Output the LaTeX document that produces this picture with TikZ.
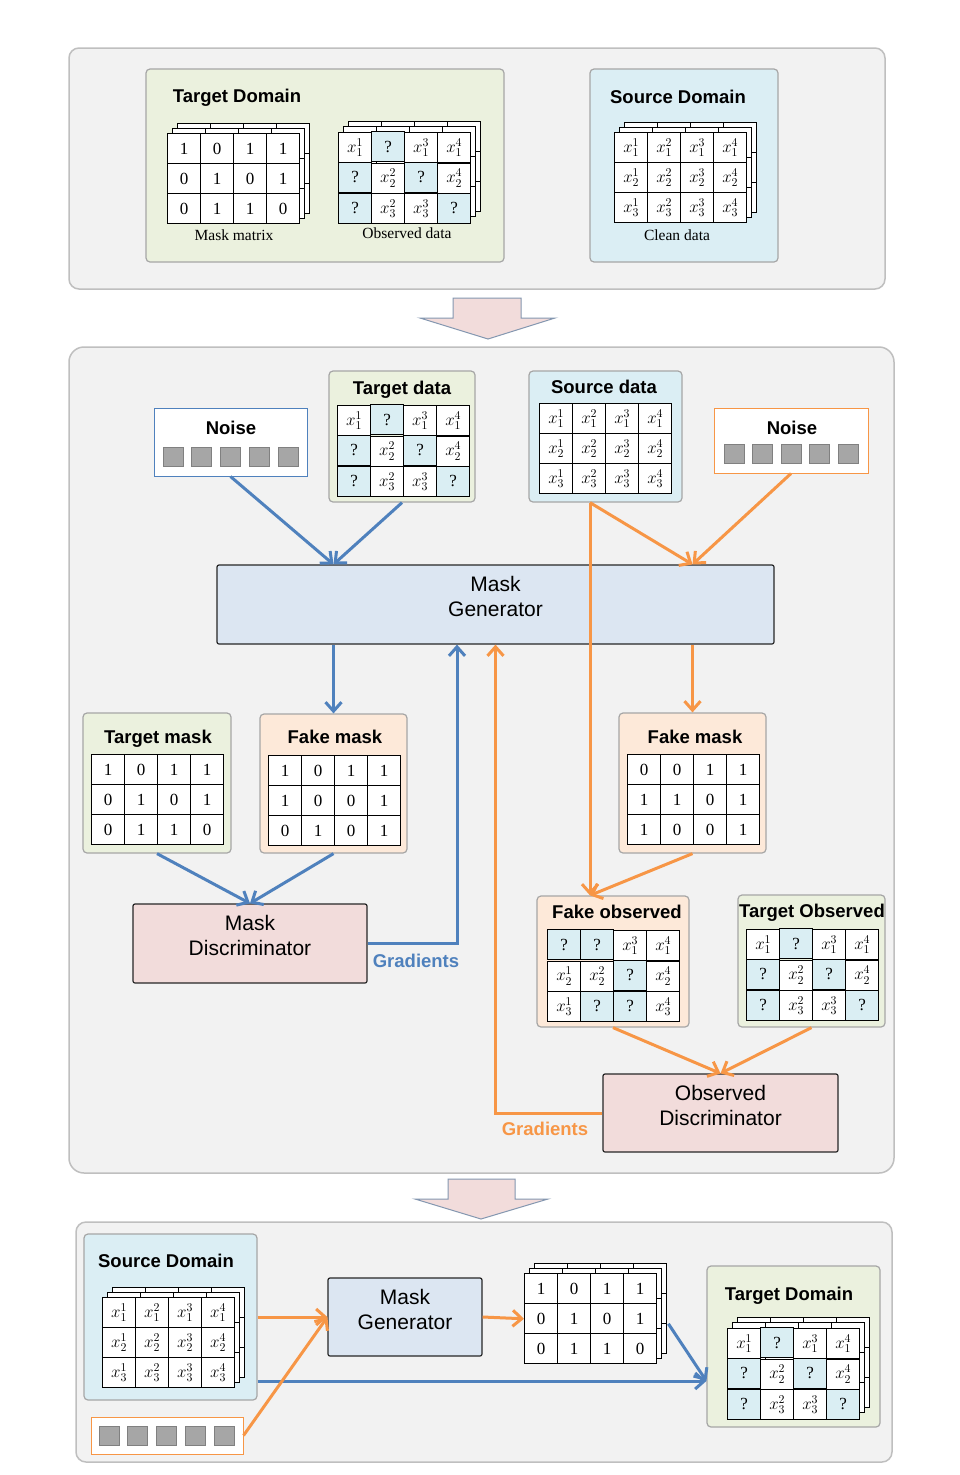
\documentclass[tikz,border=0pt]{standalone}
\usepackage{fix-cm}
\usepackage{fontspec}
\setmainfont{Liberation Serif}
\setsansfont{Liberation Sans}
\usetikzlibrary{arrows.meta,matrix,fit}

\definecolor{panelgray}{HTML}{F2F2F2}
\definecolor{boxgreen}{HTML}{EBF1DE}
\definecolor{boxblue}{HTML}{DBEEF4}
\definecolor{boxpeach}{HTML}{FDE9D9}
\definecolor{boxpink}{HTML}{F2DCDB}
\definecolor{netblue}{HTML}{DCE6F2}
\definecolor{qblue}{HTML}{DAEEF3}
\definecolor{flowblue}{HTML}{4F81BD}
\definecolor{floworange}{HTML}{F79646}
\definecolor{arrowedge}{HTML}{8497B0}

\newcommand{\titlefont}{\sffamily\bfseries\fontsize{18.5}{21}\selectfont}
\newcommand{\netfont}{\sffamily\fontsize{21}{25}\selectfont}
\newcommand{\capfont}{\rmfamily\fontsize{15.5}{18}\selectfont}
\newcommand{\cellfont}{\rmfamily\fontsize{17}{18}\selectfont}

% one hidden sheet of a stacked grid, top left corner at #1,#2
\newcommand{\backsheet}[2]{%
  \draw[sheet] (#1,#2) rectangle ++(132,90);
  \foreach \i in {1,2,3} \draw[sheet] ({#1+33*\i},#2) -- ++(0,90);
  \foreach \j in {1,2} \draw[sheet] (#1,{#2+30*\j}) -- ++(132,0);
}
\newcommand{\backstack}[2]{\backsheet{#1+10}{#2-10}\backsheet{#1+5}{#2-5}}

\begin{document}
\begin{tikzpicture}[x=1pt,y=-1pt]
	\tikzstyle{panel}=[draw=black!25, fill=panelgray, line width=1.5pt, rounded corners=10pt]
	\tikzstyle{box}=[draw=black!35, line width=1.2pt, rounded corners=4pt, inner sep=0pt]
	\tikzstyle{greenbox}=[box, fill=boxgreen]
	\tikzstyle{bluebox}=[box, fill=boxblue]
	\tikzstyle{peachbox}=[box, fill=boxpeach]
	\tikzstyle{netbox}=[draw=black!85, line width=1.2pt, rounded corners=2pt, inner sep=0pt, align=center, font=\netfont]
	\tikzstyle{noisebox}=[draw, line width=1pt, fill=white, inner sep=0pt]
	\tikzstyle{noisesq}=[draw=black!50, fill=black!35, line width=0.8pt, minimum width=20pt, minimum height=19pt, inner sep=0pt]
	\tikzstyle{boxtitle}=[font=\titlefont, inner sep=0pt, anchor=base]
	\tikzstyle{gridcaption}=[font=\capfont, inner sep=0pt, anchor=base]
	\tikzstyle{gradlabel}=[font=\titlefont, inner sep=0pt, anchor=base]
	\tikzstyle{cell}=[draw, line width=1pt, fill=white, minimum width=33pt, minimum height=30pt, inner sep=0pt, outer sep=0pt, font=\cellfont]
	\tikzstyle{qcell}=[fill=qblue]
	\tikzstyle{datagrid}=[matrix of nodes, nodes in empty cells, anchor=north west, inner sep=0pt, column sep=-1pt, row sep=-1pt, nodes={cell}]
	\tikzstyle{sheet}=[draw, line width=1pt, fill=white]
	\tikzstyle{blueflow}=[-{Straight Barb[length=9pt,width=16pt]}, line width=3pt, draw=flowblue]
	\tikzstyle{orangeflow}=[-{Straight Barb[length=9pt,width=16pt]}, line width=3pt, draw=floworange]
	\tikzstyle{bigarrow}=[draw=arrowedge, fill=boxpink, line width=1pt, line join=miter]
	\useasboundingbox[fill=white] (0,0) rectangle (960,1475);

	% top panel
	\draw[panel] (69,48) rectangle (885,289);
	\node[greenbox, fit={(146,69) (504,262)}] (tdbox) {};
	\node[bluebox, fit={(590,69) (778,262)}] (sdbox) {};
	\node[boxtitle] (tdtitle) at (237,102) {Target Domain};
	\node[boxtitle] (sdtitle) at (678,103) {Source Domain};
	\backstack{167}{133}
	\matrix (maskgrid) [datagrid] at (167,133) {
	  1 & 0 & 1 & 1 \\
	  0 & 1 & 0 & 1 \\
	  0 & 1 & 1 & 0 \\
	};
	\backstack{338}{131}
	\matrix (obsgrid) [datagrid] at (338,131) {
	  $x_1^1$ & |[qcell]| ? & $x_1^3$ & $x_1^4$ \\
	  |[qcell]| ? & $x_2^2$ & |[qcell]| ? & $x_2^4$ \\
	  |[qcell]| ? & $x_3^2$ & $x_3^3$ & |[qcell]| ? \\
	};
	\backstack{614}{132}
	\matrix (cleangrid) [datagrid] at (614,132) {
	  $x_1^1$ & $x_1^2$ & $x_1^3$ & $x_1^4$ \\
	  $x_2^1$ & $x_2^2$ & $x_2^3$ & $x_2^4$ \\
	  $x_3^1$ & $x_3^2$ & $x_3^3$ & $x_3^4$ \\
	};
	\node[gridcaption] (maskcap) at (234,240) {Mask matrix};
	\node[gridcaption] (obscap) at (407,238) {Observed data};
	\node[gridcaption] (cleancap) at (677,240) {Clean data};

	\draw[bigarrow] (453,298) -- (521,298) -- (521,318) -- (555,318) -- (488,339) -- (420,318) -- (453,318) -- cycle;

	% training panel
	\draw[panel, rounded corners=15pt] (69,347) rectangle (894,1173);
	\node[noisebox, draw=flowblue, fit={(154,408) (307,476)}] (noiseL) {};
	\node[boxtitle] (noiseLtitle) at (231,434) {Noise};
	\foreach \i in {0,...,4}
	  \node[noisesq] (nl\i) at ({173+28.75*\i},456.5) {};
	\node[greenbox, fit={(329,371) (475,502)}] (tdata) {};
	\node[boxtitle] (tdatatitle) at (402,394) {Target data};
	\matrix (tdgrid) [datagrid] at (337,404) {
	  $x_1^1$ & |[qcell]| ? & $x_1^3$ & $x_1^4$ \\
	  |[qcell]| ? & $x_2^2$ & |[qcell]| ? & $x_2^4$ \\
	  |[qcell]| ? & $x_3^2$ & $x_3^3$ & |[qcell]| ? \\
	};
	\node[bluebox, fit={(529,371) (682,502)}] (sdata) {};
	\node[boxtitle] (sdatatitle) at (604,393) {Source data};
	\matrix (sdgrid) [datagrid] at (539,403) {
	  $x_1^1$ & $x_1^2$ & $x_1^3$ & $x_1^4$ \\
	  $x_2^1$ & $x_2^2$ & $x_2^3$ & $x_2^4$ \\
	  $x_3^1$ & $x_3^2$ & $x_3^3$ & $x_3^4$ \\
	};
	\node[noisebox, draw=floworange, fit={(714,408) (868,473)}] (noiseR) {};
	\node[boxtitle] (noiseRtitle) at (792,434) {Noise};
	\foreach \i in {0,...,4}
	  \node[noisesq] (nr\i) at ({734+28.5*\i},453.5) {};

	\node[netbox, fill=netblue, fit={(217,565) (774,644)}] (mg) {Mask\\Generator};

	\node[greenbox, fit={(83,713) (231,853)}] (tmask) {};
	\node[boxtitle] (tmasktitle) at (158,743) {Target mask};
	\matrix (tmgrid) [datagrid] at (91,754) {
	  1 & 0 & 1 & 1 \\
	  0 & 1 & 0 & 1 \\
	  0 & 1 & 1 & 0 \\
	};
	\node[peachbox, fit={(260,714) (407,853)}] (fmaskL) {};
	\node[boxtitle] (fmaskLtitle) at (335,743) {Fake mask};
	\matrix (fmLgrid) [datagrid] at (268,755) {
	  1 & 0 & 1 & 1 \\
	  1 & 0 & 0 & 1 \\
	  0 & 1 & 0 & 1 \\
	};
	\node[peachbox, fit={(619,713) (766,853)}] (fmaskR) {};
	\node[boxtitle] (fmaskRtitle) at (695,743) {Fake mask};
	\matrix (fmRgrid) [datagrid] at (627,754) {
	  0 & 0 & 1 & 1 \\
	  1 & 1 & 0 & 1 \\
	  1 & 0 & 0 & 1 \\
	};

	\node[netbox, fill=boxpink, fit={(133,904) (367,983)}] (md) {Mask\\Discriminator};

	\node[peachbox, fit={(537,896) (689,1027)}] (fobs) {};
	\node[boxtitle] (fobstitle) at (617,918) {Fake observed};
	\matrix (fogrid) [datagrid] at (547,929) {
	  |[qcell]| ? & |[qcell]| ? & $x_1^3$ & $x_1^4$ \\
	  $x_2^1$ & $x_2^2$ & |[qcell]| ? & $x_2^4$ \\
	  $x_3^1$ & |[qcell]| ? & |[qcell]| ? & $x_3^4$ \\
	};
	\node[greenbox, fit={(738,895) (885,1027)}] (tobs) {};
	\node[boxtitle] (tobstitle) at (812,917) {Target Observed};
	\matrix (togrid) [datagrid] at (746,928) {
	  $x_1^1$ & |[qcell]| ? & $x_1^3$ & $x_1^4$ \\
	  |[qcell]| ? & $x_2^2$ & |[qcell]| ? & $x_2^4$ \\
	  |[qcell]| ? & $x_3^2$ & $x_3^3$ & |[qcell]| ? \\
	};

	\node[netbox, fill=boxpink, fit={(603,1074) (838,1152)}] (od) {Observed\\Discriminator};

	\node[gradlabel, text=flowblue] (gradB) at (416,967) {Gradients};
	\node[gradlabel, text=floworange] (gradO) at (545,1135) {Gradients};

	\coordinate (srcout) at ([xshift=-15.5pt]sdata.south);
	\path
	  (noiseL.south) edge [blueflow] (mg.north -| fmaskL.north)
	  (tdata.south) edge [blueflow] (mg.north -| fmaskL.north)
	  (mg.south -| fmaskL.north) edge [blueflow] (fmaskL.north)
	  (tmask.south) edge [blueflow] (md.north)
	  (fmaskL.south) edge [blueflow] (md.north);
	\draw[blueflow] (md.east) -| ([xshift=-38.5pt]mg.south);
	\draw[orangeflow] (od.west) -| (mg.south);
	\path
	  (srcout) edge [orangeflow] (mg.north -| fmaskR.north)
	  (noiseR.south) edge [orangeflow] (mg.north -| fmaskR.north)
	  (mg.south -| fmaskR.north) edge [orangeflow] (fmaskR.north)
	  (srcout) edge [orangeflow] (srcout |- fobs.north)
	  (fmaskR.south) edge [orangeflow] (srcout |- fobs.north)
	  (fobs.south) edge [orangeflow] (od.north)
	  (tobs.south) edge [orangeflow] (od.north);

	\draw[bigarrow] (448,1179) -- (515,1179) -- (515,1199) -- (548,1199) -- (481,1219) -- (415,1199) -- (448,1199) -- cycle;

	% inference panel
	\draw[panel] (76,1222) rectangle (892,1462);
	\node[bluebox, fit={(84,1234) (257,1400)}] (sd3) {};
	\node[boxtitle] (sd3title) at (166,1267) {Source Domain};
	\backstack{102}{1297}
	\matrix (sd3grid) [datagrid] at (102,1297) {
	  $x_1^1$ & $x_1^2$ & $x_1^3$ & $x_1^4$ \\
	  $x_2^1$ & $x_2^2$ & $x_2^3$ & $x_2^4$ \\
	  $x_3^1$ & $x_3^2$ & $x_3^3$ & $x_3^4$ \\
	};
	\node[noisebox, draw=floworange, fit={(91,1417) (243,1454)}] (noise3) {};
	\foreach \i in {0,...,4}
	  \node[noisesq] (n3\i) at ({109+28.75*\i},1435.5) {};
	\node[netbox, fill=netblue, fit={(328,1278) (482,1356)}] (mg3) {Mask\\Generator};
	\backstack{524}{1273}
	\matrix (mk3) [datagrid] at (524,1273) {
	  1 & 0 & 1 & 1 \\
	  0 & 1 & 0 & 1 \\
	  0 & 1 & 1 & 0 \\
	};
	\node[greenbox, fit={(707,1266) (880,1427)}] (td3) {};
	\node[boxtitle] (td3title) at (789,1300) {Target Domain};
	\backstack{727}{1327}
	\matrix (td3grid) [datagrid] at (727,1327) {
	  $x_1^1$ & |[qcell]| ? & $x_1^3$ & $x_1^4$ \\
	  |[qcell]| ? & $x_2^2$ & |[qcell]| ? & $x_2^4$ \\
	  |[qcell]| ? & $x_3^2$ & $x_3^3$ & |[qcell]| ? \\
	};

	\coordinate (bl3) at ([yshift=-64pt]sd3.east);
	\path
	  (bl3) edge [blueflow] (bl3 -| td3.west)
	  ([xshift=11pt,yshift=-5pt]mk3.east) edge [blueflow] (bl3 -| td3.west);
	\path
	  (sd3.east) edge [orangeflow] (mg3.west)
	  (noise3.east) edge [orangeflow] (mg3.west)
	  (mg3.east) edge [orangeflow] (mk3.west);
\end{tikzpicture}
\end{document}
